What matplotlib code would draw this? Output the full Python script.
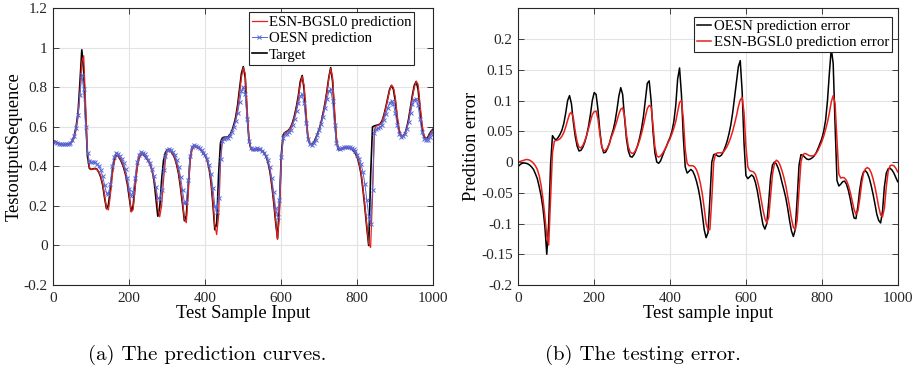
import numpy as np
import matplotlib
matplotlib.use("Agg")
import matplotlib.pyplot as plt

# sample index (every 5 samples)
sample = np.arange(0, 1001, 5)

# (a) prediction curves
target = [
    0.530, 0.525, 0.520, 0.515, 0.512, 0.510, 0.510, 0.511, 0.513, 0.517,
    0.530, 0.555, 0.600, 0.670, 0.820, 0.990, 0.880, 0.650, 0.450, 0.390,
    0.385, 0.388, 0.390, 0.385, 0.370, 0.345, 0.305, 0.240, 0.186, 0.205,
    0.280, 0.370, 0.430, 0.455, 0.455, 0.440, 0.420, 0.395, 0.360, 0.310,
    0.240, 0.172, 0.200, 0.300, 0.390, 0.440, 0.460, 0.462, 0.455, 0.440,
    0.430, 0.410, 0.380, 0.330, 0.240, 0.148, 0.190, 0.330, 0.430, 0.470,
    0.485, 0.482, 0.475, 0.460, 0.440, 0.405, 0.360, 0.290, 0.210, 0.125,
    0.150, 0.300, 0.440, 0.495, 0.505, 0.500, 0.495, 0.490, 0.480, 0.465,
    0.455, 0.430, 0.390, 0.320, 0.210, 0.080, 0.110, 0.360, 0.520, 0.545,
    0.548, 0.548, 0.550, 0.560, 0.580, 0.610, 0.650, 0.710, 0.790, 0.870,
    0.905, 0.850, 0.660, 0.530, 0.490, 0.482, 0.482, 0.485, 0.486, 0.484,
    0.478, 0.468, 0.450, 0.420, 0.375, 0.305, 0.220, 0.120, 0.035, 0.200,
    0.460, 0.560, 0.572, 0.578, 0.585, 0.600, 0.625, 0.660, 0.705, 0.760,
    0.830, 0.860, 0.790, 0.650, 0.545, 0.515, 0.510, 0.520, 0.540, 0.565,
    0.590, 0.625, 0.670, 0.720, 0.780, 0.850, 0.900, 0.830, 0.660, 0.530,
    0.485, 0.485, 0.490, 0.493, 0.495, 0.495, 0.492, 0.488, 0.480, 0.465,
    0.445, 0.410, 0.360, 0.280, 0.190, 0.090, 0.000, 0.350, 0.600, 0.605,
    0.608, 0.610, 0.615, 0.630, 0.660, 0.700, 0.745, 0.790, 0.810, 0.790,
    0.730, 0.640, 0.580, 0.555, 0.552, 0.565, 0.595, 0.640, 0.700, 0.760,
    0.810, 0.830, 0.790, 0.690, 0.600, 0.555, 0.540, 0.545, 0.565, 0.580,
    0.590,
]

esn_bgsl0_pred = [
    0.530, 0.527, 0.522, 0.517, 0.513, 0.511, 0.510, 0.511, 0.513, 0.516,
    0.525, 0.545, 0.585, 0.650, 0.770, 0.930, 0.960, 0.720, 0.480, 0.395,
    0.385, 0.387, 0.388, 0.384, 0.372, 0.350, 0.312, 0.250, 0.190, 0.180,
    0.250, 0.350, 0.420, 0.450, 0.455, 0.443, 0.425, 0.400, 0.368, 0.320,
    0.255, 0.170, 0.180, 0.280, 0.385, 0.440, 0.458, 0.460, 0.455, 0.442,
    0.428, 0.405, 0.375, 0.338, 0.280, 0.190, 0.145, 0.200, 0.330, 0.430,
    0.478, 0.482, 0.476, 0.462, 0.443, 0.410, 0.368, 0.300, 0.225, 0.135,
    0.115, 0.260, 0.420, 0.485, 0.500, 0.498, 0.494, 0.488, 0.480, 0.466,
    0.455, 0.432, 0.395, 0.330, 0.225, 0.100, 0.055, 0.150, 0.420, 0.535,
    0.545, 0.546, 0.548, 0.556, 0.575, 0.600, 0.640, 0.695, 0.770, 0.850,
    0.900, 0.870, 0.700, 0.545, 0.490, 0.480, 0.480, 0.483, 0.484, 0.482,
    0.478, 0.470, 0.452, 0.425, 0.382, 0.315, 0.232, 0.130, 0.030, 0.150,
    0.420, 0.550, 0.570, 0.576, 0.583, 0.597, 0.620, 0.652, 0.695, 0.750,
    0.815, 0.855, 0.810, 0.680, 0.560, 0.515, 0.508, 0.515, 0.535, 0.560,
    0.585, 0.620, 0.665, 0.715, 0.775, 0.845, 0.895, 0.850, 0.690, 0.550,
    0.490, 0.485, 0.488, 0.492, 0.494, 0.494, 0.492, 0.488, 0.482, 0.472,
    0.448, 0.415, 0.368, 0.290, 0.200, 0.100, 0.010, -0.010, 0.250, 0.585,
    0.605, 0.608, 0.613, 0.625, 0.655, 0.695, 0.740, 0.785, 0.810, 0.800,
    0.750, 0.660, 0.590, 0.558, 0.550, 0.560, 0.588, 0.630, 0.690, 0.750,
    0.800, 0.830, 0.815, 0.720, 0.620, 0.560, 0.540, 0.540, 0.558, 0.575,
    0.585,
]

oesn_pred = [
    0.525, 0.522, 0.518, 0.514, 0.512, 0.511, 0.511, 0.512, 0.515, 0.520,
    0.532, 0.555, 0.595, 0.660, 0.760, 0.865, 0.790, 0.600, 0.470, 0.425,
    0.420, 0.422, 0.420, 0.412, 0.400, 0.380, 0.350, 0.305, 0.265, 0.262,
    0.310, 0.400, 0.450, 0.468, 0.465, 0.455, 0.438, 0.415, 0.385, 0.340,
    0.285, 0.252, 0.270, 0.340, 0.420, 0.460, 0.472, 0.470, 0.462, 0.450,
    0.435, 0.415, 0.388, 0.350, 0.295, 0.240, 0.235, 0.280, 0.380, 0.455,
    0.485, 0.488, 0.484, 0.472, 0.456, 0.430, 0.395, 0.345, 0.280, 0.215,
    0.220, 0.330, 0.455, 0.500, 0.508, 0.505, 0.500, 0.492, 0.482, 0.470,
    0.458, 0.438, 0.405, 0.360, 0.290, 0.200, 0.170, 0.240, 0.440, 0.530,
    0.540, 0.542, 0.545, 0.555, 0.572, 0.598, 0.630, 0.670, 0.725, 0.780,
    0.800, 0.765, 0.640, 0.530, 0.492, 0.488, 0.490, 0.492, 0.490, 0.486,
    0.480, 0.470, 0.455, 0.430, 0.395, 0.340, 0.270, 0.190, 0.145, 0.230,
    0.450, 0.545, 0.562, 0.566, 0.572, 0.585, 0.608, 0.640, 0.680, 0.720,
    0.755, 0.765, 0.720, 0.620, 0.540, 0.512, 0.510, 0.518, 0.535, 0.558,
    0.585, 0.615, 0.652, 0.695, 0.740, 0.780, 0.790, 0.730, 0.610, 0.520,
    0.492, 0.490, 0.494, 0.497, 0.499, 0.499, 0.497, 0.493, 0.486, 0.476,
    0.460, 0.440, 0.410, 0.370, 0.310, 0.230, 0.150, 0.108, 0.280, 0.570,
    0.588, 0.592, 0.598, 0.612, 0.635, 0.665, 0.695, 0.722, 0.730, 0.715,
    0.670, 0.610, 0.565, 0.550, 0.552, 0.565, 0.590, 0.625, 0.670, 0.715,
    0.738, 0.740, 0.710, 0.640, 0.575, 0.540, 0.532, 0.535, 0.550, 0.565,
    0.575,
]

# (b) testing error
oesn_err = [
    -0.007, -0.004, -0.002, -0.0015, -0.002, -0.003, -0.005, -0.008, -0.012, -0.019,
    -0.027, -0.040, -0.055, -0.075, -0.105, -0.150, -0.100, -0.005, 0.043, 0.038,
    0.036, 0.040, 0.045, 0.052, 0.063, 0.080, 0.100, 0.108, 0.095, 0.065,
    0.042, 0.026, 0.018, 0.019, 0.024, 0.032, 0.043, 0.058, 0.077, 0.100,
    0.113, 0.110, 0.085, 0.050, 0.025, 0.015, 0.016, 0.022, 0.030, 0.042,
    0.052, 0.066, 0.085, 0.107, 0.121, 0.110, 0.072, 0.038, 0.018, 0.009,
    0.008, 0.012, 0.019, 0.028, 0.040, 0.055, 0.075, 0.102, 0.128, 0.132,
    0.100, 0.050, 0.015, 0.000, -0.002, 0.002, 0.010, 0.018, 0.025, 0.033,
    0.040, 0.050, 0.066, 0.092, 0.135, 0.153, 0.110, 0.040, -0.008, -0.018,
    -0.015, -0.012, -0.015, -0.022, -0.032, -0.045, -0.062, -0.085, -0.110, -0.123,
    -0.115, -0.060, 0.000, 0.012, 0.013, 0.010, 0.009, 0.011, 0.016, 0.024,
    0.033, 0.045, 0.060, 0.080, 0.105, 0.130, 0.155, 0.165, 0.115, 0.030,
    -0.022, -0.027, -0.024, -0.021, -0.024, -0.033, -0.047, -0.065, -0.085, -0.102,
    -0.109, -0.100, -0.065, -0.025, -0.005, 0.000, -0.003, -0.010, -0.020, -0.033,
    -0.045, -0.058, -0.075, -0.095, -0.112, -0.121, -0.110, -0.060, -0.005, 0.012,
    0.011, 0.008, 0.005, 0.004, 0.005, 0.007, 0.010, 0.015, 0.022, 0.030,
    0.038, 0.050, 0.068, 0.100, 0.145, 0.185, 0.160, 0.060, -0.030, -0.039,
    -0.036, -0.032, -0.031, -0.036, -0.046, -0.060, -0.077, -0.091, -0.092, -0.072,
    -0.045, -0.026, -0.016, -0.014, -0.018, -0.026, -0.038, -0.052, -0.068, -0.085,
    -0.095, -0.099, -0.080, -0.040, -0.018, -0.011, -0.010, -0.013, -0.018, -0.025,
    -0.032,
]

esn_bgsl0_err = [
    0.000, 0.001, 0.002, 0.003, 0.004, 0.004, 0.003, 0.001, -0.002, -0.006,
    -0.012, -0.022, -0.038, -0.060, -0.088, -0.120, -0.135, -0.060, 0.015, 0.034,
    0.035, 0.036, 0.038, 0.042, 0.048, 0.057, 0.068, 0.078, 0.081, 0.072,
    0.050, 0.033, 0.024, 0.023, 0.027, 0.034, 0.043, 0.054, 0.066, 0.077,
    0.082, 0.083, 0.070, 0.045, 0.025, 0.018, 0.019, 0.023, 0.030, 0.040,
    0.048, 0.057, 0.067, 0.078, 0.086, 0.088, 0.075, 0.045, 0.025, 0.016,
    0.014, 0.015, 0.020, 0.027, 0.036, 0.047, 0.060, 0.074, 0.087, 0.092,
    0.090, 0.060, 0.025, 0.010, 0.008, 0.010, 0.014, 0.019, 0.025, 0.032,
    0.038, 0.046, 0.055, 0.066, 0.082, 0.097, 0.100, 0.070, 0.020, -0.002,
    -0.006, -0.006, -0.006, -0.008, -0.013, -0.022, -0.035, -0.052, -0.075, -0.100,
    -0.110, -0.110, -0.060, 0.000, 0.013, 0.015, 0.015, 0.015, 0.016, 0.020,
    0.025, 0.032, 0.040, 0.050, 0.062, 0.075, 0.090, 0.101, 0.105, 0.080,
    0.025, -0.008, -0.014, -0.015, -0.016, -0.020, -0.030, -0.043, -0.060, -0.078,
    -0.092, -0.099, -0.090, -0.055, -0.020, -0.003, 0.003, 0.001, -0.005, -0.014,
    -0.025, -0.038, -0.055, -0.073, -0.092, -0.106, -0.110, -0.095, -0.045, 0.000,
    0.012, 0.014, 0.013, 0.011, 0.010, 0.010, 0.011, 0.014, 0.019, 0.026,
    0.033, 0.042, 0.053, 0.065, 0.080, 0.098, 0.108, 0.095, 0.035, -0.020,
    -0.026, -0.025, -0.026, -0.030, -0.038, -0.049, -0.063, -0.077, -0.085, -0.080,
    -0.060, -0.035, -0.018, -0.011, -0.009, -0.011, -0.017, -0.027, -0.040, -0.056,
    -0.073, -0.086, -0.089, -0.075, -0.040, -0.015, -0.006, -0.005, -0.006, -0.010,
    -0.016,
]

x_ticks = [0, 200, 400, 600, 800, 1000]
left_yticks = [-0.2, 0, 0.2, 0.4, 0.6, 0.8, 1, 1.2]
left_ylabels = ['-0.2', '0', '0.2', '0.4', '0.6', '0.8', '1', '1.2']
right_yticks = [-0.2, -0.15, -0.1, -0.05, 0, 0.05, 0.1, 0.15, 0.2]
right_ylabels = ['-0.2', '-0.15', '-0.1', '-0.05', '0', '0.05', '0.1', '0.15', '0.2']

plt.rcParams['font.family'] = ['Liberation Serif', 'DejaVu Serif']

fig = plt.figure(figsize=(9.19, 3.78), dpi=100)
ax1 = fig.add_axes([0.058, 0.246, 0.4135, 0.732])
ax2 = fig.add_axes([0.564, 0.246, 0.4128, 0.732])

axis_col = '#262626'
blue = '#5567d8'
red = '#e8201c'


def style_axes(ax):
    ax.grid(True, color='#e3e3e3', linewidth=0.8)
    ax.set_axisbelow(True)
    ax.tick_params(direction='in', top=True, right=True, length=4,
                   width=0.6, colors=axis_col, labelsize=11, pad=4)
    ax.tick_params(axis='x', pad=5)
    for s in ax.spines.values():
        s.set_color(axis_col)
        s.set_linewidth(0.8)
    ax.set_xlim(0, 1000)
    ax.set_xticks(x_ticks)
    ax.set_xticklabels([str(t) for t in x_ticks])


def add_legend(ax, handles, labels, anchor):
    leg = ax.legend(handles, labels, loc='upper right', bbox_to_anchor=anchor,
                    fontsize=10.7, frameon=True, fancybox=False,
                    edgecolor=axis_col, framealpha=1,
                    handlelength=1.0, handletextpad=0.15, labelspacing=0.2,
                    borderpad=0.2, borderaxespad=0)
    leg.get_frame().set_linewidth(0.8)
    return leg


# Gráfico (a): curvas de predicción
l_target, = ax1.plot(sample, target, color='black', linewidth=1.2)
l_esn, = ax1.plot(sample, esn_bgsl0_pred, color=red, linewidth=0.9)
l_oesn, = ax1.plot(sample, oesn_pred, color=blue, linewidth=0.7, marker='x',
                   markersize=3.2, markeredgewidth=0.7)
style_axes(ax1)
ax1.set_ylim(-0.2, 1.2)
ax1.set_yticks(left_yticks)
ax1.set_yticklabels(left_ylabels)
ax1.set_xlabel('Test Sample Input', fontsize=13.3, labelpad=0)
ax1.set_ylabel('TestoutputSequence', fontsize=13.3, labelpad=1)
add_legend(ax1, [l_esn, l_oesn, l_target],
           ['ESN-BGSL0 prediction', 'OESN prediction', 'Target'],
           (0.95, 0.985))

# Gráfico (b): error de test
r_oesn, = ax2.plot(sample, oesn_err, color='black', linewidth=1.1)
r_esn, = ax2.plot(sample, esn_bgsl0_err, color=red, linewidth=1.1)
style_axes(ax2)
ax2.set_ylim(-0.2, 0.25)
ax2.set_yticks(right_yticks)
ax2.set_yticklabels(right_ylabels)
ax2.set_xlabel('Test sample input', fontsize=13.3, labelpad=0)
ax2.set_ylabel('Predition error', fontsize=13.3, labelpad=1)
add_legend(ax2, [r_oesn, r_esn],
           ['OESN prediction error', 'ESN-BGSL0 prediction error'],
           (0.985, 0.97))

# subtítulos
fig.text(0.225, 0.06, '(a) The prediction curves.', family='cmr10',
         fontsize=15, ha='center', va='center')
fig.text(0.70, 0.06, '(b) The testing error.', family='cmr10',
         fontsize=15, ha='center', va='center')

fig.savefig('out.png', dpi=100)
